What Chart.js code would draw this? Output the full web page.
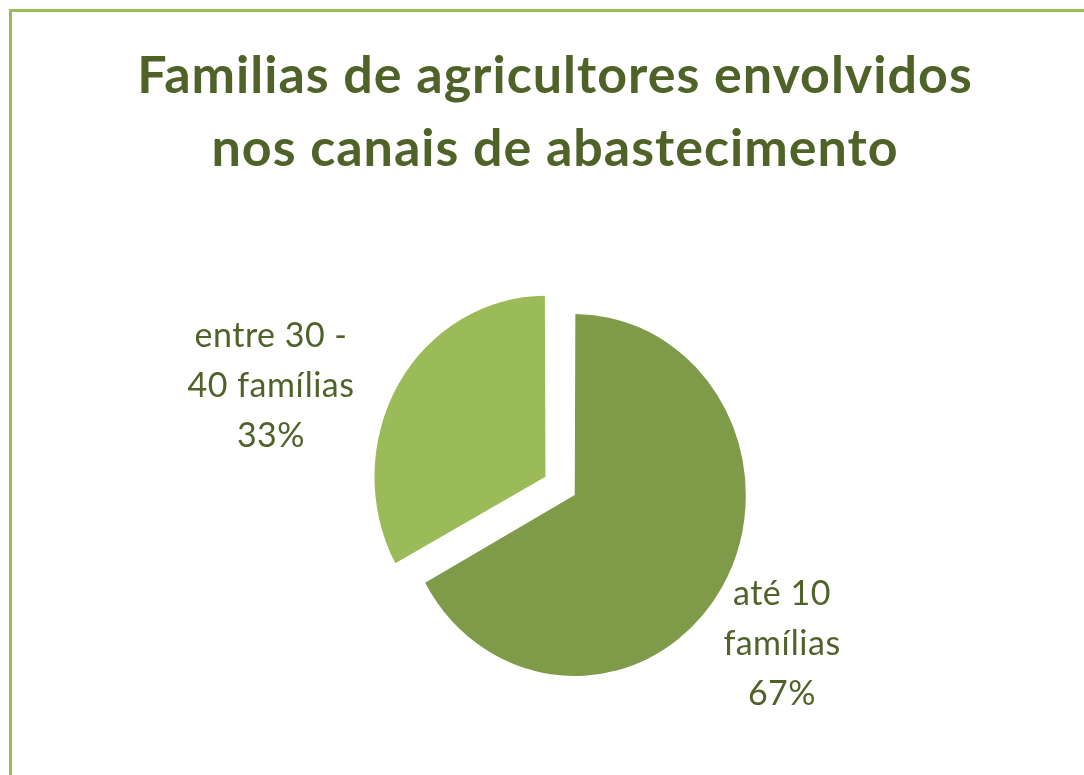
<!DOCTYPE html>
<html>
<head>
<meta charset="utf-8">
<script src="https://cdn.jsdelivr.net/npm/chart.js@4"></script>
<style>
  html, body { margin: 0; padding: 0; background: #ffffff; overflow: hidden; width: 1084px; height: 775px; }
  canvas { display: block; }
</style>
</head>
<body>
<canvas id="c" width="1084" height="775"></canvas>
<script>
const titleLines = ["Familias de agricultores envolvidos", "nos canais de abastecimento"];
const categories = [["até 10", "famílias"], ["entre 30 -", "40 famílias"]];
const values = [67, 33];
const percentLabels = ["67%", "33%"];
const colors = ["#7f9a48", "#9bbb59"];

const TEXT = "#4f6228";
const FRAME = "#9bbb59";
const ELLIPSE_X = 0.945;
const TITLE_X = 555;

// label placement relative to the pie centre (layout, not data)
const labelPlacement = [
  { dx: 210.5, dy: 112 },
  { dx: -300.5, dy: -146 }
];

const framePlugin = {
  id: 'frame',
  beforeDraw(chart) {
    const ctx = chart.ctx;
    ctx.save();
    ctx.fillStyle = '#ffffff';
    ctx.fillRect(0, 0, chart.width, chart.height);
    ctx.strokeStyle = FRAME;
    ctx.lineWidth = 3;
    ctx.beginPath();
    ctx.moveTo(10.5, chart.height + 5);
    ctx.lineTo(10.5, 10.5);
    ctx.lineTo(chart.width + 5, 10.5);
    ctx.stroke();
    ctx.restore();
  }
};

const ellipsePlugin = {
  id: 'ellipse',
  beforeDatasetsDraw(chart) {
    const ctx = chart.ctx;
    const a = chart.chartArea;
    const cx = (a.left + a.right) / 2, cy = (a.top + a.bottom) / 2;
    ctx.save();
    ctx.translate(cx, cy);
    ctx.scale(ELLIPSE_X, 1);
    ctx.translate(-cx, -cy);
  },
  afterDatasetsDraw(chart) {
    chart.ctx.restore();
  }
};

const textPlugin = {
  id: 'texts',
  afterDraw(chart) {
    const ctx = chart.ctx;
    const a = chart.chartArea;
    const cx = (a.left + a.right) / 2, cy = (a.top + a.bottom) / 2;
    ctx.save();
    ctx.fillStyle = TEXT;
    ctx.textAlign = 'center';
    ctx.textBaseline = 'alphabetic';
    ctx.font = "bold 52px Lato";
    ctx.letterSpacing = "1px";
    titleLines.forEach((t, i) => ctx.fillText(t, TITLE_X, 93 + i * 73));
    ctx.font = "34px Lato";
    ctx.letterSpacing = "0.5px";
    categories.forEach((lines, i) => {
      const p = labelPlacement[i];
      const all = lines.concat([percentLabels[i]]);
      all.forEach((t, j) => ctx.fillText(t, cx + p.dx, cy + p.dy + j * 50));
    });
    ctx.restore();
  }
};

new Chart(document.getElementById('c'), {
  type: 'pie',
  data: {
    labels: categories.map(c => c.join(' ')),
    datasets: [{
      data: values,
      backgroundColor: colors,
      borderWidth: 0,
      offset: [16, 128]
    }]
  },
  options: {
    responsive: false,
    animation: false,
    events: [],
    radius: 177,
    layout: { padding: { left: 59, right: 0, top: 215, bottom: 4 } },
    plugins: {
      legend: { display: false },
      title: { display: false },
      tooltip: { enabled: false }
    }
  },
  plugins: [framePlugin, ellipsePlugin, textPlugin]
});
</script>
</body>
</html>
